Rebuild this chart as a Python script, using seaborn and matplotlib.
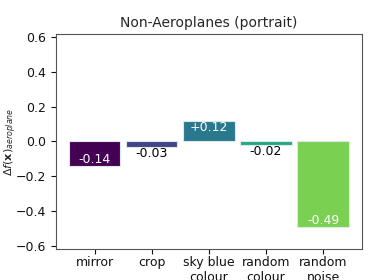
import numpy as np
import pandas as pd
import seaborn as sns
import matplotlib
matplotlib.use("Agg")
import matplotlib.pyplot as plt

transforms = ["mirror", "crop", "sky blue\ncolour", "random\ncolour", "random\nnoise"]
deltas = [-0.14, -0.03, 0.12, -0.02, -0.49]
labels = ["-0.14", "-0.03", "+0.12", "-0.02", "-0.49"]
inside = [True, False, True, False, True]

df = pd.DataFrame({"transform": transforms, "delta": deltas})

sns.set_style("ticks")
plt.rcParams["font.family"] = ["DejaVu Sans"]

fig, ax = plt.subplots(figsize=(3.73, 2.8), dpi=100)
pal = [tuple(c) for c in plt.get_cmap("viridis")(np.linspace(0, 1, 6))[:5]]
sns.barplot(data=df, x="transform", y="delta", hue="transform", palette=pal,
            legend=False, width=0.9, saturation=1, edgecolor="#dde8e8",
            linewidth=0.8, ax=ax)

for i, (v, lab, ins) in enumerate(zip(deltas, labels, inside)):
    if ins:
        va = "top" if v > 0 else "bottom"
        ax.text(i, v, lab, ha="center", va=va, color="white", fontsize=9)
    else:
        ax.text(i, v, lab, ha="center", va="top", color="black", fontsize=9)

ax.set_ylim(-0.62, 0.62)
ax.set_xlim(-0.68, 4.68)
ax.set_yticks([-0.6, -0.4, -0.2, 0.0, 0.2, 0.4, 0.6])
ax.set_xlabel("")
ax.set_ylabel(r"$\Delta f(\mathbf{x})_{aeroplane}$", fontsize=8)
ax.yaxis.set_label_coords(-0.12, 0.5)
ax.set_title("Non-Aeroplanes (portrait)", fontsize=10, pad=5)
ax.tick_params(labelsize=9, colors="#111111")
ax.tick_params(axis="x", pad=1.5)
for s in ax.spines.values():
    s.set_color("#555555")

fig.subplots_adjust(left=0.15, right=0.97, top=0.88, bottom=0.11)
fig.savefig("out.png", dpi=100)
